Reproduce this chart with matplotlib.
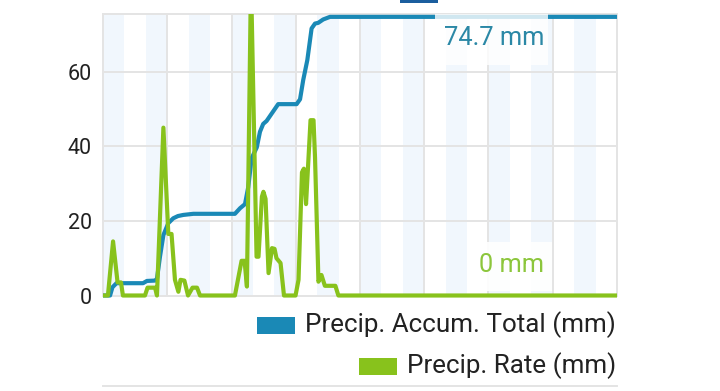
import matplotlib
matplotlib.use('Agg')
import matplotlib.pyplot as plt
from matplotlib.patches import Rectangle
from matplotlib.transforms import Bbox, TransformedBbox

plt.rcParams['font.family'] = ['Roboto', 'DejaVu Sans']

# hours of the day and readings
rate_hours = [0.00, 0.23, 0.47, 0.68, 0.84, 0.93, 1.96, 2.08, 2.43, 2.52,
              2.82, 3.05, 3.20, 3.36, 3.52, 3.62, 3.80, 3.97, 4.18, 4.39,
              4.53, 6.16, 6.47, 6.61, 6.72, 6.91, 7.17, 7.26, 7.42, 7.49,
              7.59, 7.73, 7.89, 8.01, 8.10, 8.29, 8.45, 8.99, 9.13, 9.29,
              9.38, 9.48, 9.69, 9.83, 9.90, 10.06, 10.20, 10.36, 10.85, 10.99,
              24.00]
rate_mm = [0, 0, 14.5, 3.5, 3.5, 0, 0, 2.1, 2.1, 0,
           45, 16.5, 16.5, 4.2, 1.0, 4.2, 4.0, 0, 2.1, 2.1,
           0, 0, 9.3, 9.3, 2.4, 85, 10.4, 10.4, 26.5, 27.8,
           25.9, 6.0, 12.7, 12.5, 10.0, 8.7, 0, 0, 4.2, 33,
           34, 24.5, 47, 47, 37, 3.7, 5.5, 2.6, 2.6, 0,
           0]

accum_hours = [0.00, 0.33, 0.44, 0.63, 1.87, 2.05, 2.43, 2.52, 2.66, 2.82,
               3.05, 3.28, 3.50, 3.75, 4.22, 6.16, 6.40, 6.63, 6.78, 6.94,
               7.18, 7.33, 7.48, 7.64, 7.88, 8.18, 9.04, 9.20, 9.35, 9.54,
               9.74, 9.90, 10.05, 10.28, 10.60, 24.00]
accum_mm = [0, 0, 2.2, 3.3, 3.3, 3.9, 4.0, 4.5, 10.4, 16.2,
            19.4, 20.7, 21.3, 21.6, 21.9, 21.9, 23.4, 24.5, 29.0, 36.8,
            39.7, 43.9, 46.0, 46.8, 48.8, 51.3, 51.3, 52.6, 57.8, 63.1,
            71.6, 72.9, 73.1, 74.0, 74.7, 74.7]

y_ticks = [0, 20, 40, 60]
total_label = '74.7 mm'
rate_label = '0 mm'

blue = '#1a89b6'
green = '#88c21c'

fig = plt.figure(figsize=(7.2, 3.91), dpi=100)
ax = fig.add_axes([103 / 720, 1 - 295.5 / 391, 514 / 720, 282 / 391])

# alternating hour bands
for h in range(0, 24, 2):
    ax.axvspan(h, h + 1, color='#f1f7fd', lw=0, zorder=0)

ax.set_xlim(0, 24)
ax.set_ylim(0, 75.6)
ax.set_xticks(range(0, 25, 3))
ax.set_yticks(y_ticks)
ax.grid(True, color='#e4e4e4', lw=1.4, zorder=1)
ax.set_axisbelow(True)
ax.tick_params(length=0, labelsize=15.5, pad=8, colors='#222222')
ax.tick_params(axis='x', labelbottom=False)
for s in ax.spines.values():
    s.set_color('#e4e4e4')
    s.set_linewidth(1.4)

# clip only at the top, so the zero line is drawn at full width
clip = TransformedBbox(Bbox([[0.0, -0.05], [1.0, 1.0]]), ax.transAxes)

l1, = ax.plot(accum_hours, accum_mm, color=blue, lw=3.0, zorder=3,
              solid_joinstyle='round')
l2, = ax.plot(rate_hours, rate_mm, color=green, lw=3.0, zorder=4,
              solid_joinstyle='round')
l1.set_clip_box(clip)
l2.set_clip_box(clip)

# value labels with soft boxes
ax.add_patch(Rectangle((435 / 720, 1 - 65 / 391), 113 / 720, 51 / 391,
                       transform=fig.transFigure, facecolor='white',
                       alpha=0.8, lw=0, zorder=5))
ax.add_patch(Rectangle((468 / 720, 1 - 291 / 391), 84 / 720, 49 / 391,
                       transform=fig.transFigure, facecolor='white',
                       alpha=0.9, lw=0, zorder=2.5))
fig.text(544 / 720, 1 - 38 / 391, total_label, ha='right', va='center',
         fontsize=18.3, color='#2b88a6', zorder=6)
fig.text(544 / 720, 1 - 265 / 391, rate_label, ha='right', va='center',
         fontsize=18.3, color='#8cc63c', zorder=6)

# legend rows below the chart
rows = [('Precip. Accum. Total (mm)', blue, 325),
        ('Precip. Rate (mm)', green, 366)]
fig.canvas.draw()
r = fig.canvas.get_renderer()
for label, col, yc in rows:
    t = fig.text(616 / 720, 1 - yc / 391, label, ha='right', va='center',
                 fontsize=18.7, color='#222222')
    bb = t.get_window_extent(renderer=r)
    x0 = bb.x0 - 10 - 38
    fig.add_artist(Rectangle((x0 / 720, 1 - (yc + 8.5) / 391), 38 / 720,
                             17 / 391, transform=fig.transFigure,
                             facecolor=col, lw=0))

# top of the next chart peeking in at the bottom
fig.add_artist(plt.Line2D([103 / 720, 617 / 720], [1 - 386 / 391] * 2,
                          transform=fig.transFigure, color='#e4e4e4', lw=1.4))
# top legend of the previous chart cut off at the top
fig.add_artist(Rectangle((400 / 720, 1 - 3 / 391), 38 / 720, 3 / 391,
                         transform=fig.transFigure, facecolor='#1b5e9e', lw=0))

fig.savefig('out.png', dpi=100, facecolor='white')
